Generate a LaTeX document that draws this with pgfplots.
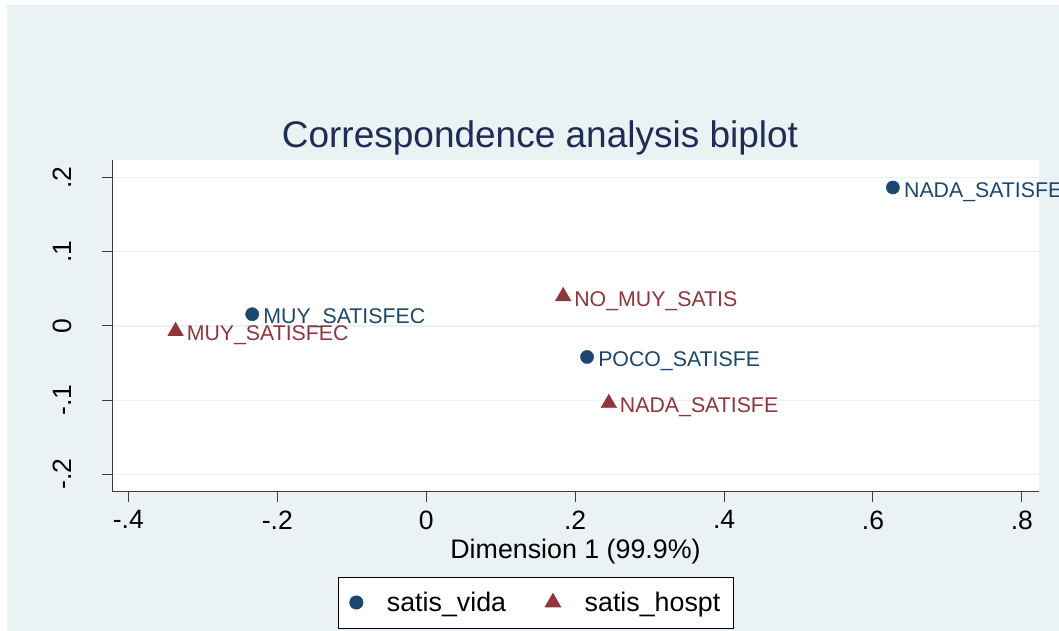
\documentclass[border=0pt]{standalone}
\usepackage{pgfplots}
\pgfplotsset{compat=1.18}
\usepackage{fontspec}
\setmainfont{Liberation Sans}
\definecolor{bgc}{RGB}{234,242,243}
\definecolor{navyc}{RGB}{26,71,111}
\definecolor{maroonc}{RGB}{144,53,59}
\definecolor{titlec}{RGB}{30,45,85}
\definecolor{axisc}{RGB}{60,60,60}
\begin{document}
\begin{tikzpicture}[x=1pt,y=1pt]
\fill[white] (0,0) rectangle (1059,631);
\fill[bgc] (7,0) rectangle (1059,626);
\begin{axis}[
  at={(112pt,139pt)}, anchor=south west,
  scale only axis, width=927pt, height=332pt,
  xmin=-0.422, xmax=0.823, ymin=-0.224, ymax=0.224,
  axis background/.style={fill=white},
  axis x line*=bottom, axis y line*=left,
  axis line style={axisc, line width=1pt},
  tick align=outside, major tick length=10pt,
  tick style={axisc, line width=1pt},
  xtick={-0.4,-0.2,0,0.2,0.4,0.6,0.8},
  xticklabels={-.4,-.2,0,.2,.4,.6,.8},
  ytick={-0.2,-0.1,0,0.1,0.2},
  yticklabels={-.2,-.1,0,.1,.2},
  ymajorgrids, grid style={bgc, line width=1.2pt},
  ticklabel style={font=\fontsize{26.5}{30}\selectfont, text=black},
  xticklabel style={yshift=-5pt},
  yticklabel style={rotate=90, anchor=south, inner sep=0pt, yshift=30pt},
  title={Correspondence analysis biplot},
  title style={at={(axis description cs:0.4617,1.021)}, anchor=base,
    font=\fontsize{37}{40}\selectfont, text=titlec, inner sep=0pt},
  xlabel={Dimension 1 (99.9\%)},
  xlabel style={at={(axis description cs:0.5,-0.1997)}, anchor=base,
    font=\fontsize{26.8}{30}\selectfont, inner sep=0pt},
  point meta=explicit symbolic,
  nodes near coords,
  every node near coord/.append style={anchor=base west, xshift=11pt, yshift=-9.7pt,
    font=\fontsize{21.3}{24}\selectfont, inner sep=0pt, overlay},
  legend columns=2,
  legend style={at={(axis description cs:0.4574,-0.3328)}, anchor=center,
    draw=black, line width=0.8pt, fill=white,
    font=\fontsize{26.8}{30}\selectfont,
    inner xsep=11pt, inner ysep=13pt,
    /tikz/every even column/.append style={column sep=37pt},
    /tikz/every odd column/.append style={column sep=22pt}},
  legend image code/.code={\draw[#1] plot coordinates {(8pt,0pt)};},
]
\addplot[only marks, mark=*, mark size=6.6pt, navyc,
  every node near coord/.append style={text=navyc}]
  coordinates {
  (-0.2337,0.0159) [MUY\_SATISFEC]
  (0.6268,0.1869) [NADA\_SATISFE]
  (0.2160,-0.0418) [POCO\_SATISFE]
  };
\addlegendentry{satis\_vida}
\addplot[only marks, mark=triangle*, mark size=9pt, maroonc,
  every node near coord/.append style={text=maroonc}]
  coordinates {
  (-0.3366,-0.0071) [MUY\_SATISFEC]
  (0.1839,0.0400) [NO\_MUY\_SATIS]
  (0.2452,-0.1042) [NADA\_SATISFE]
  };
\addlegendentry{satis\_hospt}
\end{axis}
\end{tikzpicture}
\end{document}
